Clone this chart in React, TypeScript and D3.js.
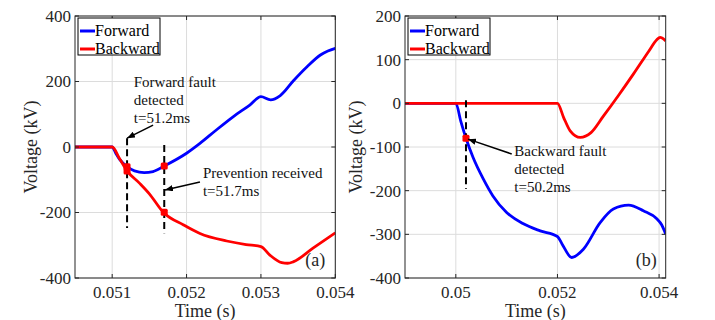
import * as d3 from "d3";

const FONT = "'Liberation Serif', 'DejaVu Serif', 'Times New Roman', serif";
const INK = "#262626";
const BLUE = "#0000ff";
const RED = "#ff0000";

// panel (a)
const tA_fwd = [0.0505, 0.051, 0.05105, 0.0511, 0.0512, 0.0513, 0.05143, 0.05155, 0.0517, 0.052, 0.05218, 0.0524, 0.05263, 0.05285, 0.053, 0.05313, 0.05326, 0.05344, 0.05362, 0.0538, 0.0539, 0.054];
const vA_fwd = [0, 0, -20, -38, -60, -73, -78, -75, -58, -19, 11, 52, 93, 128, 154, 144, 157, 203, 245, 281, 293, 301];
const tA_bwd = [0.0505, 0.051, 0.0511, 0.0512, 0.05137, 0.0515, 0.05169, 0.05196, 0.05218, 0.05254, 0.0528, 0.053, 0.05312, 0.05328, 0.05336, 0.05344, 0.0537, 0.054];
const vA_bwd = [0, 0, -36, -73, -111, -143, -200, -238, -264, -287, -298, -304, -330, -353, -355, -350, -309, -262];

// panel (b)
const tB_fwd = [0.049, 0.05, 0.0501, 0.0502, 0.05034, 0.05054, 0.05073, 0.051, 0.05133, 0.05166, 0.052, 0.05209, 0.05228, 0.05251, 0.05284, 0.0531, 0.0534, 0.05369, 0.05396, 0.05405, 0.05413];
const vB_fwd = [0, 0, -42, -80, -124, -173, -212, -250, -276, -292, -305, -322, -353, -334, -273, -242, -233, -246, -265, -278, -299];
const tB_bwd = [0.049, 0.052, 0.05212, 0.05225, 0.05245, 0.05266, 0.0529, 0.0532, 0.0535, 0.0538, 0.05395, 0.05402, 0.05413];
const vB_bwd = [0, 0, -32, -63, -78, -67, -30, 18, 68, 120, 145, 151, 143];

const xTicksA = [0.051, 0.052, 0.053, 0.054];
const yTicksA = [400, 200, 0, -200, -400];
const xTicksB = [0.05, 0.052, 0.054];
const yTicksB = [200, 100, 0, -100, -200, -300, -400];

const legendNames = ["Forward", "Backward"];

type Note = {lines: string[]; at: [number, number]; from: [number, number]; tip: [number, number]};
type Dash = {t: number; v0: number; v1: number};

const zip = (t: number[], v: number[]) => t.map((d, i) => [d, v[i]] as [number, number]);

const notesA: Note[] = [
  {lines: ["Forward fault", "detected", "t=51.2ms"], at: [0.05129, 183], from: [0.05155, 67], tip: [0.0512, 27]},
  {lines: ["Prevention received", "t=51.7ms"], at: [0.05222, -95], from: [0.05218, -107], tip: [0.05171, -131]},
];
const notesB: Note[] = [
  {lines: ["Backward fault", "detected", "t=50.2ms"], at: [0.05115, -120], from: [0.0511, -116], tip: [0.05024, -82]},
];
const dashesA: Dash[] = [{t: 0.0512, v0: 27, v1: -247}, {t: 0.0517, v0: 6, v1: -263}];
const dashesB: Dash[] = [{t: 0.0502, v0: 7, v1: -196}];
const dotsA: [number, number][] = [[0.0512, -60], [0.0512, -73], [0.0517, -58], [0.0517, -199]];
const dotsB: [number, number][] = [[0.0502, -80]];

const top = 16, bottom = 278;

type PanelProps = {
  id: string; x0: number; x1: number; xDomain: [number, number]; yDomain: [number, number];
  xTicks: number[]; yTicks: number[]; xFmt: (d: number) => string;
  fwd: [number, number][]; bwd: [number, number][];
  notes: Note[]; dashes: Dash[]; dots: [number, number][]; tag: string; yLabelX: number;
};

const Panel = (p: PanelProps) => {
  const x = d3.scaleLinear().domain(p.xDomain).range([p.x0, p.x1]);
  const y = d3.scaleLinear().domain(p.yDomain).range([bottom, top]);
  const line = d3.line<[number, number]>().x(d => x(d[0])).y(d => y(d[1])).curve(d3.curveMonotoneX);
  const clip = `clip-${p.id}`;
  const cx = (p.x0 + p.x1) / 2;
  return (
    <g>
      <defs>
        <clipPath id={clip}><rect x={p.x0} y={top} width={p.x1 - p.x0} height={bottom - top} /></clipPath>
      </defs>
      <rect x={p.x0} y={top} width={p.x1 - p.x0} height={bottom - top} fill="#fff" />
      {p.xTicks.map(t => <line key={"gx" + t} x1={x(t)} x2={x(t)} y1={top} y2={bottom} stroke="#dcdcdc" />)}
      {p.yTicks.map(t => <line key={"gy" + t} x1={p.x0} x2={p.x1} y1={y(t)} y2={y(t)} stroke="#dcdcdc" />)}
      <g clipPath={`url(#${clip})`}>
        <path d={line(p.fwd) ?? ""} fill="none" stroke={BLUE} strokeWidth={2.8} />
        <path d={line(p.bwd) ?? ""} fill="none" stroke={RED} strokeWidth={2.8} />
      </g>
      {p.dashes.map((d, i) => (
        <line key={"d" + i} x1={x(d.t)} x2={x(d.t)} y1={y(d.v0)} y2={y(d.v1)} stroke="#000" strokeWidth={2} strokeDasharray="7,4" />
      ))}
      {p.dots.map((d, i) => (
        <rect key={"m" + i} x={x(d[0]) - 3.5} y={y(d[1]) - 3.5} width={7} height={7} rx={1.5} fill={RED} />
      ))}
      {p.notes.map((n, i) => (
        <g key={"n" + i}>
          <line x1={x(n.from[0])} y1={y(n.from[1])} x2={x(n.tip[0])} y2={y(n.tip[1])} stroke="#000" strokeWidth={1.5} markerEnd="url(#arrow)" />
          <text x={x(n.at[0])} y={y(n.at[1])} fontSize={15} fill="#111">
            {n.lines.map((l, j) => <tspan key={j} x={x(n.at[0])} dy={j === 0 ? 0 : 18}>{l}</tspan>)}
          </text>
        </g>
      ))}
      <rect x={p.x0} y={top} width={p.x1 - p.x0} height={bottom - top} fill="none" stroke={INK} strokeWidth={1} />
      {p.xTicks.map(t => (
        <g key={"tx" + t}>
          <line x1={x(t)} x2={x(t)} y1={bottom} y2={bottom - 4} stroke={INK} />
          <line x1={x(t)} x2={x(t)} y1={top} y2={top + 4} stroke={INK} />
          <text x={x(t)} y={298} fontSize={17} textAnchor="middle" fill={INK}>{p.xFmt(t)}</text>
        </g>
      ))}
      {p.yTicks.map(t => (
        <g key={"ty" + t}>
          <line x1={p.x0} x2={p.x0 + 4} y1={y(t)} y2={y(t)} stroke={INK} />
          <line x1={p.x1} x2={p.x1 - 4} y1={y(t)} y2={y(t)} stroke={INK} />
          <text x={p.x0 - 4} y={y(t)} dy="0.35em" fontSize={17} textAnchor="end" fill={INK}>{t}</text>
        </g>
      ))}
      <text x={cx} y={317} fontSize={18} textAnchor="middle" fill={INK}>Time (s)</text>
      <text transform={`translate(${p.yLabelX},${(top + bottom) / 2}) rotate(-90)`} dy="0.35em" fontSize={18} textAnchor="middle" fill={INK}>Voltage (kV)</text>
      <g transform={`translate(${p.x0 + 3},${top + 2})`}>
        <rect width={82} height={37} fill="#fff" stroke="#000" strokeWidth={1} />
        {legendNames.map((name, i) => (
          <g key={name} transform={`translate(0,${13 + i * 18})`}>
            <line x1={2} x2={17} y1={0} y2={0} stroke={i === 0 ? BLUE : RED} strokeWidth={3} />
            <text x={17} y={5} fontSize={16} fill="#000">{name}</text>
          </g>
        ))}
      </g>
      <text x={p.x1 - 30} y={bottom - 12} fontSize={18} fill={INK}>{p.tag}</text>
    </g>
  );
};

const App = () => (
  <svg width={715} height={320} style={{position: "absolute", left: 0, top: 0, background: "#fff", fontFamily: FONT}}>
    <defs>
      <marker id="arrow" viewBox="0 0 10 8" refX={10} refY={4} markerWidth={8} markerHeight={6.4} markerUnits="userSpaceOnUse" orient="auto">
        <path d="M0,0 L10,4 L0,8 z" fill="#000" />
      </marker>
    </defs>
    <Panel id="a" x0={75} x1={335.3} xDomain={[0.0505, 0.054]} yDomain={[-400, 400]}
      xTicks={xTicksA} yTicks={yTicksA} xFmt={d3.format(".3f")}
      fwd={zip(tA_fwd, vA_fwd)} bwd={zip(tA_bwd, vA_bwd)}
      notes={notesA} dashes={dashesA} dots={dotsA} tag="(a)" yLabelX={31} />
    <Panel id="b" x0={405} x1={665.7} xDomain={[0.049, 0.05413]} yDomain={[-400, 200]}
      xTicks={xTicksB} yTicks={yTicksB} xFmt={d => (d === 0.05 ? "0.05" : d3.format(".3f")(d))}
      fwd={zip(tB_fwd, vB_fwd)} bwd={zip(tB_bwd, vB_bwd)}
      notes={notesB} dashes={dashesB} dots={dotsB} tag="(b)" yLabelX={356} />
  </svg>
);

export default App;
